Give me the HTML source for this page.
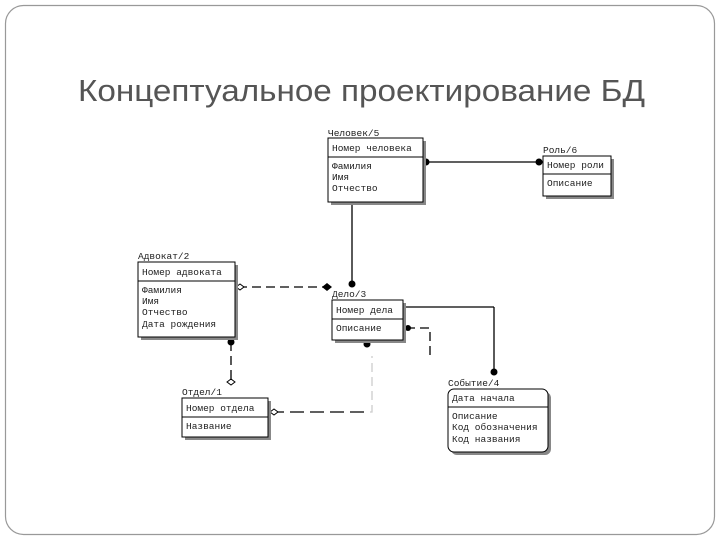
<!DOCTYPE html>
<html><head><meta charset="utf-8"><style>
html,body{margin:0;padding:0;background:#fff;}
svg{display:block}
text{font-family:"Liberation Mono","DejaVu Sans Mono",monospace;font-size:9.5px;fill:#222}
.t{font-family:"Liberation Sans","DejaVu Sans",sans-serif;font-size:31px;fill:#555}
</style></head><body>
<svg width="720" height="540" viewBox="0 0 720 540">
<rect x="5.5" y="5.5" width="709" height="529" rx="18" fill="#fff" stroke="#999" stroke-width="1.2"/>
<text class="t" x="78" y="101" textLength="567" lengthAdjust="spacingAndGlyphs">Концептуальное проектирование БД</text>
<g fill="none" stroke="#000" stroke-width="1.3">
<line x1="423" y1="162" x2="543" y2="162"/>
<line x1="352" y1="202" x2="352" y2="285"/>
<line x1="403" y1="307" x2="494" y2="307"/><line x1="494" y1="307" x2="494" y2="372"/>
<line x1="238" y1="287" x2="328" y2="287" stroke-dasharray="9,5"/>
<line x1="231" y1="342" x2="231" y2="382" stroke-dasharray="9,5"/>
<polyline points="406,328 430,328 430,357" stroke-dasharray="9,5"/>
<polyline points="370,412 372,412 372,356" stroke="#ccc" stroke-dasharray="9,5"/>
<line x1="270" y1="412" x2="370" y2="412" stroke-dasharray="14,6"/>
</g>
<g fill="#000">
<circle cx="426" cy="162" r="3.5"/><circle cx="539" cy="162" r="3.5"/>
<circle cx="352" cy="284" r="3.5"/><circle cx="231" cy="342" r="3.5"/>
<circle cx="367" cy="344" r="3.5"/><circle cx="494" cy="372" r="3.5"/>
<circle cx="408" cy="328" r="3"/>
<path d="M322,287 l5,-4 l5,4 l-5,4z"/>
</g>
<g fill="#fff" stroke="#000"><path d="M236,287 l4,-3 l4,3 l-4,3z"/><path d="M227,382 l4,-3 l4,3 l-4,3z"/><path d="M270,412 l4,-3 l4,3 l-4,3z"/></g>
<g stroke="#000" stroke-width="1" fill="#fff">
<rect x="331" y="141" width="95" height="64" fill="#888" stroke="none"/>
<rect x="328" y="138" width="95" height="64"/><line x1="328" y1="157" x2="423" y2="157"/>
<rect x="546" y="159" width="68" height="40" fill="#888" stroke="none"/>
<rect x="543" y="156" width="68" height="40"/><line x1="543" y1="174" x2="611" y2="174"/>
<rect x="141" y="265" width="97" height="75" fill="#888" stroke="none"/>
<rect x="138" y="262" width="97" height="75"/><line x1="138" y1="281" x2="235" y2="281"/>
<rect x="335" y="303" width="71" height="40" fill="#888" stroke="none"/>
<rect x="332" y="300" width="71" height="40"/><line x1="332" y1="319" x2="403" y2="319"/>
<rect x="185" y="401" width="86" height="39" fill="#888" stroke="none"/>
<rect x="182" y="398" width="86" height="39"/><line x1="182" y1="417" x2="268" y2="417"/>
<rect x="451" y="392" width="100" height="63" rx="6" fill="#888" stroke="none"/>
<rect x="448" y="389" width="100" height="63" rx="6"/><line x1="448" y1="407" x2="548" y2="407"/>
</g>
<text x="328" y="136">Человек/5</text>
<text x="332" y="151">Номер человека</text>
<text x="332" y="169">Фамилия</text><text x="332" y="180">Имя</text><text x="332" y="191">Отчество</text>
<text x="543" y="153">Роль/6</text>
<text x="547" y="168">Номер роли</text><text x="547" y="186">Описание</text>
<text x="138" y="259">Адвокат/2</text>
<text x="142" y="275">Номер адвоката</text>
<text x="142" y="293">Фамилия</text><text x="142" y="304">Имя</text><text x="142" y="315">Отчество</text><text x="142" y="327">Дата рождения</text>
<text x="332" y="297">Дело/3</text>
<text x="336" y="313">Номер дела</text><text x="336" y="331">Описание</text>
<text x="182" y="395">Отдел/1</text>
<text x="186" y="411">Номер отдела</text><text x="186" y="429">Название</text>
<text x="448" y="386">Событие/4</text>
<text x="452" y="401">Дата начала</text>
<text x="452" y="419">Описание</text><text x="452" y="430">Код обозначения</text><text x="452" y="442">Код названия</text>
</svg>
</body></html>
